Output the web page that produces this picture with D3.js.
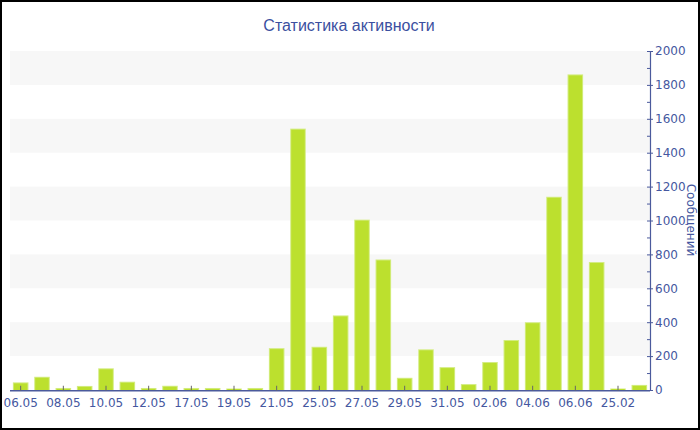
<!DOCTYPE html>
<html><head><meta charset="utf-8">
<script src="https://cdn.jsdelivr.net/npm/d3@7"></script>
<style>
html,body{margin:0;padding:0;background:#fff;}
svg{display:block;}
</style></head>
<body>
<svg id="chart" width="700" height="430"></svg>
<script>
const categories = ["06.05","07.05","08.05","09.05","10.05","11.05","12.05","16.05","17.05","18.05","19.05","20.05","21.05","24.05","25.05","26.05","27.05","28.05","29.05","30.05","31.05","01.06","02.06","03.06","04.06","05.06","06.06","07.06","25.02","26.02"];
const messages = [45,78,12,24,128,49,12,25,12,12,6,12,247,1542,255,440,1005,770,72,240,135,35,165,295,400,1140,1862,755,8,30];
const yTicks = [0,200,400,600,800,1000,1200,1400,1600,1800,2000];
const yMinorTicks = [100,300,500,700,900,1100,1300,1500,1700,1900];
const chartTitle = "Статистика активности";
const yTitle = "Сообщений";

(function(){
const svg = d3.select("#chart");
const W = 700, H = 430;
const pLeft = 10, pRight = 650, pTop = 51, pBottom = 390;
const axisColor = "#4b5a9c";
const textColor = "#4557a0";

const x = d3.scaleBand().domain(categories).range([pLeft, pRight]).paddingInner(0.27).paddingOuter(0.135);
const y = d3.scaleLinear().domain([0, 2000]).range([pBottom, pTop]);

// alternating bands
const bands = d3.range(200, 2000, 400);
svg.append("g").selectAll("rect").data(bands).join("rect")
  .attr("x", pLeft).attr("width", pRight - pLeft)
  .attr("y", d => y(d + 200)).attr("height", d => y(d) - y(d + 200))
  .attr("fill", "#f7f7f7");

// bars: light outline + fill
const gb = svg.append("g");
gb.selectAll("rect.o").data(messages).join("rect").attr("class", "o")
  .attr("x", (d, i) => x(categories[i]))
  .attr("y", d => Math.min(y(d), y(0) - 1.5))
  .attr("width", x.bandwidth())
  .attr("height", d => Math.max(1.5, y(0) - y(d)))
  .attr("fill", "#d3ec80");
gb.selectAll("rect.f").data(messages).join("rect").attr("class", "f")
  .attr("x", (d, i) => x(categories[i]) + 1)
  .attr("y", d => Math.min(y(d) + 1, y(0) - 1))
  .attr("width", x.bandwidth() - 2)
  .attr("height", d => Math.max(1, y(0) - y(d) - 1))
  .attr("fill", "#bce02e");

// x axis
const xLabeled = categories.filter((d, i) => i % 2 === 0);
const xAxis = d3.axisBottom(x).tickValues(xLabeled).tickSizeInner(-5).tickSizeOuter(0).tickPadding(6);
const gx = svg.append("g").attr("transform", `translate(0,${pBottom + 0.75})`).call(xAxis);
gx.select(".domain").attr("stroke", axisColor).attr("stroke-width", 1.5).attr("d", `M${pLeft},0H${pRight}`);
gx.selectAll(".tick line").attr("stroke", "#666");
gx.selectAll(".tick text").attr("fill", textColor).attr("font-family", "'DejaVu Sans', Verdana, sans-serif").attr("font-size", 12).attr("dy", "0.85em");

// y axis (right)
const yAxis = d3.axisRight(y).tickValues(yTicks).tickFormat(d3.format("d")).tickSizeInner(3).tickSizeOuter(0).tickPadding(2);
const gy = svg.append("g").attr("transform", `translate(${pRight},0)`).call(yAxis);
gy.select(".domain").attr("stroke", axisColor).attr("stroke-width", 1.2);
gy.selectAll(".tick line").attr("stroke", axisColor).attr("x1", -3).attr("x2", 3);
gy.selectAll(".tick text").attr("fill", textColor).attr("font-family", "'DejaVu Sans', Verdana, sans-serif").attr("font-size", 12);
// minor ticks
svg.append("g").selectAll("line").data(yMinorTicks).join("line")
  .attr("x1", pRight - 3).attr("x2", pRight)
  .attr("y1", d => y(d) + 0.5).attr("y2", d => y(d) + 0.5)
  .attr("stroke", axisColor);

// axis title
svg.append("text")
  .attr("transform", `translate(687,220) rotate(90)`)
  .attr("text-anchor", "middle")
  .attr("fill", textColor)
  .attr("font-family", "'DejaVu Sans', Verdana, sans-serif")
  .attr("font-size", 12)
  .text(yTitle);

// title
svg.append("text")
  .attr("x", 349).attr("y", 31)
  .attr("text-anchor", "middle")
  .attr("fill", "#3b4fa0")
  .attr("font-family", "'Liberation Sans', Arial, sans-serif")
  .attr("font-size", 16)
  .text(chartTitle);

// frame
svg.append("rect").attr("x", 1).attr("y", 1).attr("width", W - 2).attr("height", H - 2)
  .attr("fill", "none").attr("stroke", "#000").attr("stroke-width", 2);
})();
</script>
</body></html>
